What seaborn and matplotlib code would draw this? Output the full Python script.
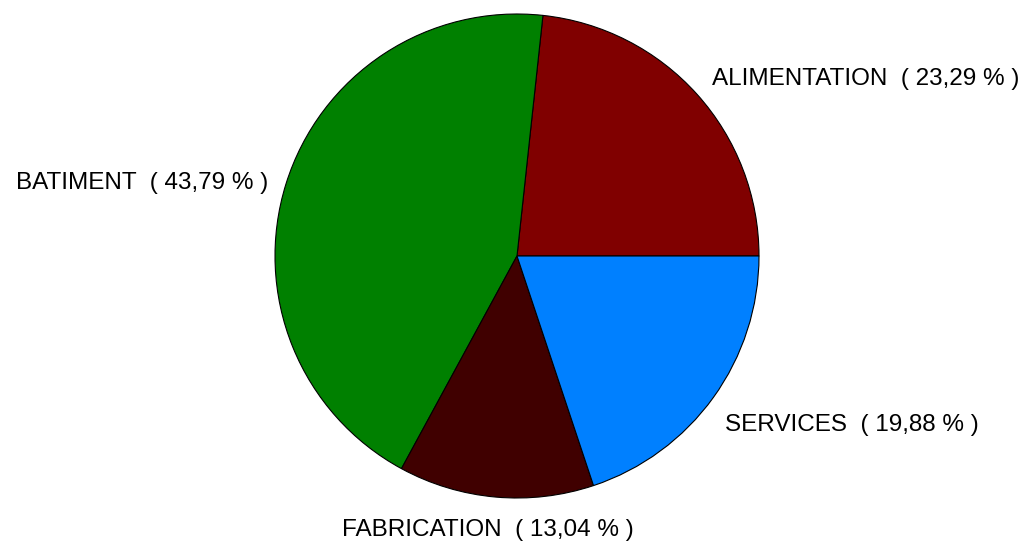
import matplotlib
matplotlib.use("Agg")
import matplotlib.pyplot as plt
import seaborn as sns

sectors = ["ALIMENTATION", "BATIMENT", "FABRICATION", "SERVICES"]
shares = [23.29, 43.79, 13.04, 19.88]
colors = ["#800000", "#008000", "#400000", "#0080FF"]

# label anchor (data coords, radius = 1) and horizontal alignment
label_pos = [(0.806, 0.730, "left"), (-1.029, 0.300, "right"),
             (-0.120, -1.133, "center"), (0.860, -0.699, "left")]

sns.set_theme(style="white")
plt.rcParams["font.family"] = ["Liberation Sans", "DejaVu Sans"]

labels = [f"{s}  ( {v:.2f} % )".replace(".", ",") for s, v in zip(sectors, shares)]

fig = plt.figure(figsize=(10.24, 5.43), dpi=100)
ax = fig.add_axes([275 / 1024, 45 / 543, 484 / 1024, 484 / 543])
wedges, texts = ax.pie(
    shares,
    labels=labels,
    colors=colors,
    startangle=0,
    counterclock=True,
    wedgeprops={"edgecolor": "black", "linewidth": 0.8},
    textprops={"fontsize": 17.5, "color": "black"},
)
for t, (x, y, ha) in zip(texts, label_pos):
    t.set_position((x, y))
    t.set_ha(ha)
    t.set_va("center")

ax.set_xlim(-1, 1)
ax.set_ylim(-1, 1)
ax.set_aspect("equal")

fig.savefig("out.png", dpi=100)
